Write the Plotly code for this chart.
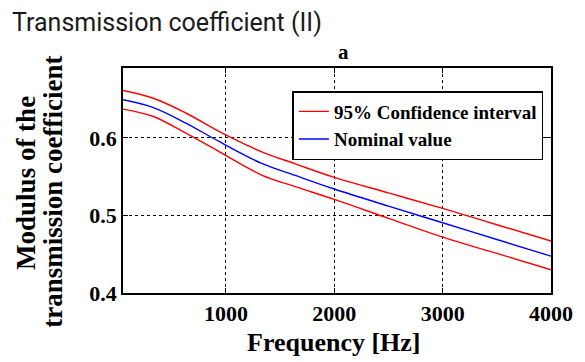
import plotly.graph_objects as go

freq = [50, 330, 630, 940, 1330, 1640, 2000, 2500, 3000, 3500, 4000]
upper = [0.661, 0.651, 0.632, 0.608, 0.582, 0.5665, 0.549, 0.529, 0.509, 0.488, 0.467]
nominal = [0.649, 0.639, 0.619, 0.595, 0.567, 0.5515, 0.534, 0.512, 0.4905, 0.469, 0.4475]
lower = [0.637, 0.6275, 0.606, 0.582, 0.552, 0.537, 0.5206, 0.4962, 0.472, 0.451, 0.430]

x_ticks = [1000, 2000, 3000, 4000]
y_ticks = [0.4, 0.5, 0.6]

SERIF = "Liberation Serif"
W, H = 585, 362
L, R, T, B = 123, 30, 68, 69
PW, PH = W - L - R, H - T - B


def px(xp):
    return (xp - L) / PW


def py(yp):
    return (H - B - yp) / PH


fig = go.Figure()
fig.add_trace(go.Scatter(x=freq, y=upper, mode="lines", line=dict(color="#ff0000", width=1.4, shape="spline"),
                         name="<b>95% Confidence interval</b>", legendgroup="ci"))
fig.add_trace(go.Scatter(x=freq, y=lower, mode="lines", line=dict(color="#ff0000", width=1.4, shape="spline"),
                         name="<b>95% Confidence interval</b>", legendgroup="ci", showlegend=False))
fig.add_trace(go.Scatter(x=freq, y=nominal, mode="lines", line=dict(color="#0000ff", width=1.4, shape="spline"),
                         name="<b>Nominal value</b>"))

axis_common = dict(showline=True, linecolor="black", linewidth=1.5, mirror="ticks", ticks="inside",
                   ticklen=5, tickcolor="black", showgrid=True, gridcolor="black", griddash="dot",
                   gridwidth=1, zeroline=False,
                   tickfont=dict(family=SERIF, size=22, color="black"))

fig.update_layout(
    width=W, height=H,
    margin=dict(l=L, r=R, t=T, b=B),
    paper_bgcolor="white", plot_bgcolor="white",
    xaxis=dict(range=[50, 4000], tickvals=x_ticks, ticktext=[f"<b>{v}</b>" for v in x_ticks], **axis_common),
    yaxis=dict(range=[0.4, 0.69], tickvals=y_ticks, ticktext=[f"<b>{v}</b>" for v in y_ticks], **axis_common),
    legend=dict(x=px(294), y=py(91), xanchor="left", yanchor="top", bgcolor="white", bordercolor="black", borderwidth=1.5,
                font=dict(family=SERIF, size=19, color="black"), tracegroupgap=0),
    showlegend=True,
    annotations=[
        dict(text="Transmission coefficient (II)", x=px(9), y=py(22), xref="paper", yref="paper",
             xanchor="left", yanchor="middle", showarrow=False, font=dict(family="Roboto", size=25, color="#1a1a1a")),
        dict(text="<b>a</b>", x=px(346), y=py(52), xref="paper", yref="paper",
             xanchor="center", yanchor="middle", showarrow=False, font=dict(family=SERIF, size=21, color="black")),
        dict(text="<b>Frequency [Hz]</b>", x=px(336), y=py(342), xref="paper", yref="paper",
             xanchor="center", yanchor="middle", showarrow=False, font=dict(family=SERIF, size=26, color="black")),
        dict(text="<b>Modulus of the</b>", x=px(25), y=py(183), xref="paper", yref="paper", textangle=-90,
             xanchor="center", yanchor="middle", showarrow=False, font=dict(family=SERIF, size=27, color="black")),
        dict(text="<b>transmission coefficient</b>", x=px(52), y=py(192), xref="paper", yref="paper", textangle=-90,
             xanchor="center", yanchor="middle", showarrow=False, font=dict(family=SERIF, size=27, color="black")),
    ],
)
fig.update_traces(hoverinfo="skip")

fig.write_html("out.html")
